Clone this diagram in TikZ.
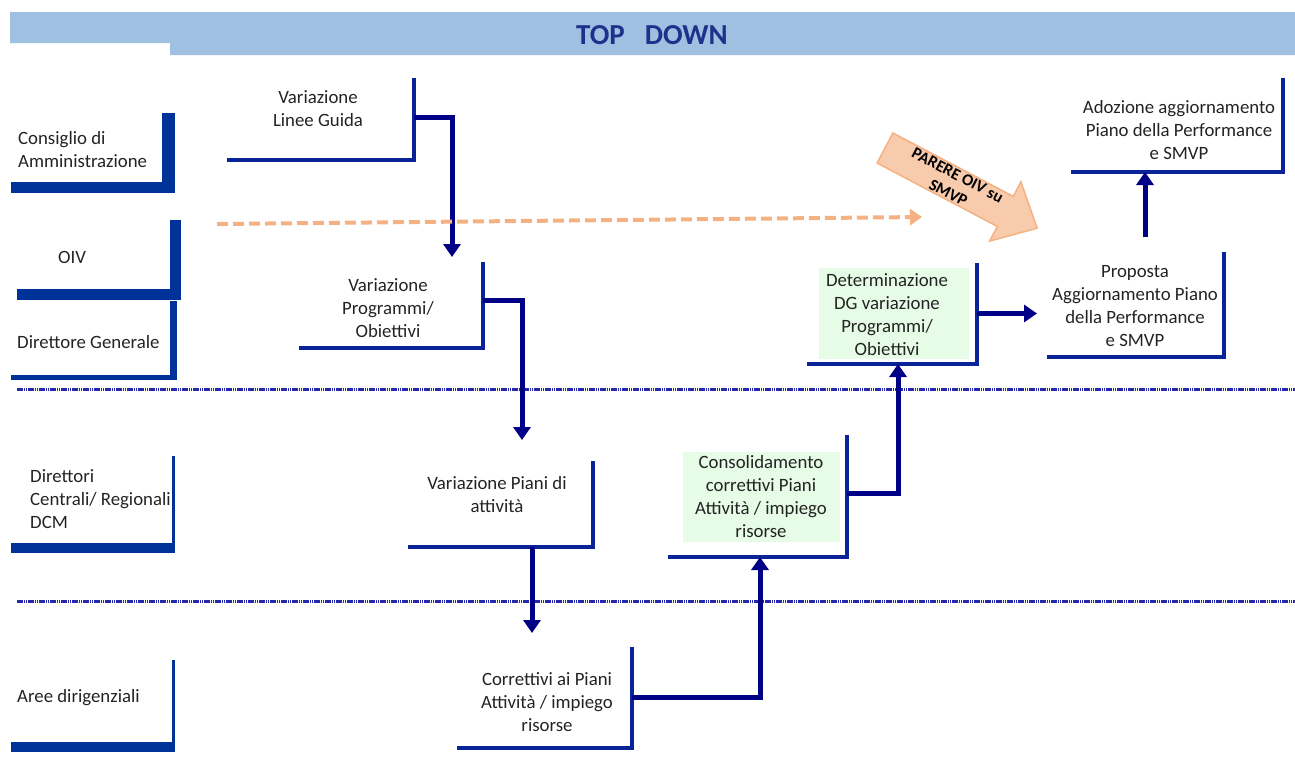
\documentclass[tikz,border=0pt]{standalone}
\usepackage{fontspec}
\setmainfont{Carlito}
\usetikzlibrary{fit,arrows.meta,calc}
\definecolor{boxblue}{RGB}{10,35,150}
\definecolor{connblue}{RGB}{0,0,135}
\definecolor{leftblue}{RGB}{0,51,153}
\definecolor{sepblue}{RGB}{40,40,170}
\definecolor{orline}{RGB}{244,177,131}
\definecolor{orfill}{RGB}{248,203,173}
\definecolor{greenfill}{RGB}{230,252,230}
\definecolor{band}{RGB}{160,192,226}
\definecolor{titleblue}{RGB}{30,50,140}
\definecolor{txtcol}{RGB}{35,35,35}
\tikzset{
  txt/.style={font=\fontsize{18.8}{23}\selectfont, text=txtcol, align=center, inner sep=0pt},
  txtl/.style={txt, align=left, anchor=west},
  frame/.style={inner sep=0pt, outer sep=0pt},
  boxline/.style={draw=boxblue, line width=3.5pt, line join=miter},
  conn/.style={draw=connblue, line width=5pt, -{Triangle[length=13pt,width=17pt]}},
  bar/.style={fill=leftblue, draw=none},
  sepline/.style={draw=sepblue, line width=3pt, dash pattern=on 1.6pt off 0.6pt},
  oivdash/.style={draw=orline, line width=4pt, dash pattern=on 11pt off 5pt, -{Triangle[length=12pt,width=16pt]}},
  greenbox/.style={fill=greenfill, draw=none},
}
\begin{document}
\begin{tikzpicture}[x=1pt,y=-1pt]
\useasboundingbox (0,0) rectangle (1295,780);

% header band
\fill[band] (10,12) -- (1295,12) -- (1295,55) -- (170,55) -- (170,43) -- (10,43) -- cycle;
\node[font=\fontsize{29}{31}\selectfont\bfseries, text=titleblue, inner sep=0] (title) at (652,35) {TOP\hspace{20pt}DOWN};

% separators
\draw[sepline] (17,389) -- (1295,389);
\draw[sepline] (17,601) -- (1295,601);

% left column
\fill[bar] (162,113) rectangle (175,193);
\fill[bar] (11,182) rectangle (175,193);
\node[txtl] (cda) at (18,149.5) {Consiglio di\\Amministrazione};

\fill[bar] (170,220) rectangle (181,300);
\fill[bar] (17,289) rectangle (181,300);
\node[txt] (oiv) at (72,257) {OIV};

\fill[bar] (170,301) rectangle (177,380);
\fill[bar] (11,375) rectangle (177,380);
\node[txtl] (dg) at (17,342) {Direttore Generale};

\fill[bar] (171.5,456) rectangle (175,553);
\fill[bar] (11,543) rectangle (175,553);
\node[txtl] (dcr) at (30,499.5) {Direttori\\Centrali/ Regionali\\DCM};

\fill[bar] (172,660) rectangle (175,752);
\fill[bar] (11,742) rectangle (175,752);
\node[txtl] (aree) at (17,698) {Aree dirigenziali};

% green fills
\fill[greenbox] (819,268) rectangle (969,359);
\fill[greenbox] (683,452) rectangle (840,542);

% boxes
\node[frame, fit={(227,78) (414,160)}] (vlg) {};
\node[frame, fit={(299,262) (483,348)}] (vpo) {};
\node[frame, fit={(408,461) (593,547)}] (vpa) {};
\node[frame, fit={(457,647) (632,748)}] (corr) {};
\node[frame, fit={(668,435) (847,557)}] (cons) {};
\node[frame, fit={(807,263) (977,364)}] (det) {};
\node[frame, fit={(1047,252) (1224,357)}] (prop) {};
\node[frame, fit={(1071,78) (1283,172)}] (adoz) {};
\foreach \b in {vlg,vpo,vpa,corr,cons,det,prop,adoz}
  \draw[boxline] (\b.north east) -- (\b.south east) -- (\b.south west);

\node[txt] (vlgT) at (318,108.5) {Variazione\\Linee Guida};
\node[txt] (vpoT) at (388,308) {Variazione\\Programmi/\\Obiettivi};
\node[txt] (vpaT) at (497,494.5) {Variazione Piani di\\attività};
\node[txt] (corrT) at (547,702) {Correttivi ai Piani\\Attività / impiego\\risorse};
\node[txt] (consT) at (761,497) {Consolidamento\\correttivi Piani\\Attività / impiego\\risorse};
\node[txt] (detT) at (887,315) {Determinazione\\DG variazione\\Programmi/\\Obiettivi};
\node[txt] (propT) at (1135,306) {Proposta\\Aggiornamento Piano\\della Performance\\e SMVP};
\node[txt] (adozT) at (1179,130.5) {Adozione aggiornamento\\Piano della Performance\\e SMVP};

% connectors
\coordinate (t1) at (452,257);
\coordinate (t2) at (522,440);
\coordinate (t3) at (532,633);
\coordinate (t4) at (760,557);
\coordinate (t5) at (898,364);
\coordinate (t6) at (1037,313.5);
\coordinate (s7) at (1145,237);
\draw[conn] ([yshift=2pt]vlg.east) -| (t1);
\draw[conn] ([yshift=5pt]vpo.east) -| (t2);
\draw[conn] (vpa.south -| t3) -- (t3);
\draw[conn] (corr.east) -| (t4);
\draw[conn] ([yshift=3pt]cons.east) -| (t5);
\draw[conn] (det.east) -- (t6);
\draw[conn] (s7) -- (adoz.south -| s7);

% OIV dashed arrow
\coordinate (d0) at (217,224);
\coordinate (d1) at (922,217);
\draw[oivdash] (d0) -- (d1);

% block arrow PARERE OIV
\begin{scope}[shift={(885,148)}, rotate=-27.8]
  \filldraw[fill=orfill, draw=orline, line width=1.5pt, line join=miter]
    (0,-17) -- (136,-17) -- (136,-33.5) -- (172,0) -- (136,33.5) -- (136,17) -- (0,17) -- cycle;
\end{scope}
\node[font=\fontsize{16.5}{20}\selectfont\bfseries, rotate=-27.8, align=center, text=black, inner sep=0] (parere) at (953,184) {PARERE OIV su\\SMVP};
\end{tikzpicture}
\end{document}
